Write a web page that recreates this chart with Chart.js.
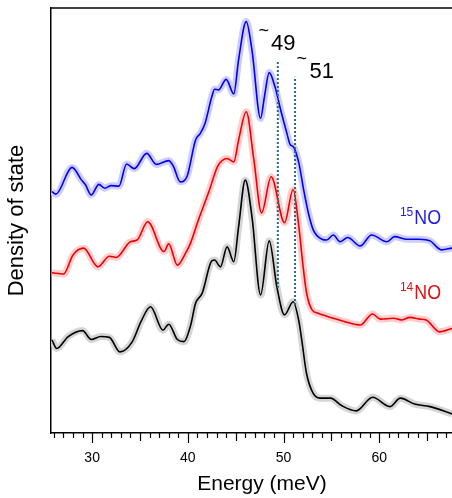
<!DOCTYPE html>
<html>
<head>
<meta charset="utf-8">
<script src="https://cdn.jsdelivr.net/npm/chart.js@4.4.0/dist/chart.umd.min.js"></script>
<style>
  html, body { margin: 0; padding: 0; background: #fff; }
</style>
</head>
<body>
<canvas id="dosChart" width="452" height="498"></canvas>
<script>
// 15NO (blue) - energy (meV) / density of state (arb. units)
const energy15 = [25.8, 26.2, 27.9, 28.9, 29.3, 29.9, 30.7, 31.3, 32.0, 32.8, 33.6, 34.4, 35.7, 36.7, 38.0, 38.5, 39.2, 39.9,
  40.8, 41.3, 41.8, 42.5, 42.8, 43.2, 44.0, 44.8, 45.3, 46.1, 46.7, 47.6, 48.0, 48.5, 49.1, 49.7, 50.35, 50.7, 51.0,
  51.6, 52.1, 52.6, 53.1, 54.0, 54.5, 55.2, 55.9, 56.7, 58.0, 59.2, 60.8, 61.6, 62.9, 64.2, 65.3, 66.5, 67.6];
const dos15 = [56.8, 56.2, 62.5, 59.5, 58.4, 56.0, 58.5, 57.6, 58.2, 58.1, 63.3, 62.2, 65.8, 63.2, 64.1, 62.7, 59.1, 60.3,
  68.9, 70.5, 72.9, 79.1, 80.9, 80.7, 83.2, 79.8, 87.8, 96.8, 90.1, 74.0, 79.1, 84.8, 81.5, 76.0, 70.5, 67.8, 67.4,
  63.5, 57.2, 51.7, 47.8, 45.6, 45.4, 46.6, 45.0, 46.0, 44.0, 46.6, 45.0, 46.2, 45.6, 45.6, 45.2, 43.1, 43.5];

// 14NO (red)
const energy14 = [25.8, 27.0, 28.0, 29.1, 30.6, 31.8, 32.5, 34.0, 34.7, 35.8, 37.5, 38.0, 38.9, 39.8, 40.3, 41.1,
  42.2, 43.1, 44.1, 44.8, 45.3, 46.1, 46.9, 47.7, 48.7, 50.1, 51.0, 51.6, 52.0, 52.4, 53.0, 53.6, 55.2, 56.4, 58.0,
  59.3, 60.1, 61.5, 62.3, 63.2, 64.2, 64.9, 66.3, 67.6];
const dos14 = [37.7, 37.4, 41.9, 43.5, 39.1, 41.6, 41.3, 45.0, 45.4, 49.7, 42.7, 44.5, 39.5, 42.5, 44.8, 50.1,
  56.8, 62.7, 64.6, 63.8, 68.9, 75.6, 64.2, 51.8, 60.3, 49.5, 57.3, 48.5, 40.0, 33.0, 28.9, 28.2, 27.0, 26.2, 25.4,
  28.0, 26.8, 27.0, 26.6, 27.2, 26.8, 26.6, 23.8, 24.6];

// bottom curve (black)
const energyK = [25.8, 26.3, 27.5, 29.0, 29.9, 30.9, 31.8, 32.9, 34.2, 35.1, 36.1, 37.4, 38.0, 38.9, 39.6, 40.3,
  40.8, 41.5, 42.5, 42.8, 43.4, 44.1, 44.8, 45.3, 46.0, 46.7, 47.6, 48.5, 49.3, 50.1, 51.0, 51.6, 51.9, 52.4, 53.1,
  53.8, 54.9, 56.1, 57.6, 59.3, 61.1, 62.2, 63.7, 65.3, 67.6];
const dosK = [21.9, 19.9, 22.7, 24.1, 22.0, 22.7, 22.5, 19.1, 21.5, 26.2, 29.7, 24.2, 25.6, 22.0, 21.5, 25.4,
  30.5, 32.9, 40.5, 40.7, 39.1, 43.8, 40.3, 48.5, 59.5, 50.9, 32.5, 45.2, 34.4, 27.8, 30.9, 26.3, 21.9, 14.0, 9.3,
  8.2, 8.2, 6.4, 5.2, 8.4, 6.2, 8.2, 6.8, 6.2, 4.5];

// dotted markers at ~49 and ~51 meV
const markerE = [49.4, 51.2];
const markerTop = [87.3, 83.8];
const markerBottom = [34.1, 30.1];

const xMin = 25.7, xMax = 67.6;
const FONT = '"Liberation Sans", Arial, sans-serif';

function toPoints(xs, ys) {
    return xs.map((x, i) => ({ x: x, y: ys[i] }));
}

function curve(xs, ys, color) {
    return {
        data: toPoints(xs, ys),
        borderColor: color,
        borderWidth: 1.6,
        cubicInterpolationMode: 'monotone',
        pointRadius: 0,
        order: 1
    };
}

function band(xs, ys, color) {
    return {
        data: toPoints(xs, ys),
        borderColor: color,
        borderWidth: 7,
        cubicInterpolationMode: 'monotone',
        pointRadius: 0,
        order: 3
    };
}

function marker(i) {
    return {
        data: [{ x: markerE[i], y: markerBottom[i] }, { x: markerE[i], y: markerTop[i] }],
        borderColor: '#2b6a7c',
        borderWidth: 2,
        borderDash: [2, 2],
        pointRadius: 0,
        order: 0
    };
}

// frame top line, minor ticks, x title and text labels
const decorations = {
    id: 'decorations',
    afterDraw(chart) {
        const { ctx, chartArea } = chart;
        const x = chart.scales.x, y = chart.scales.y;
        ctx.save();
        ctx.strokeStyle = '#000';
        ctx.lineWidth = 1.5;
        ctx.beginPath();
        ctx.moveTo(chartArea.left, chartArea.top);
        ctx.lineTo(chartArea.right, chartArea.top);
        ctx.stroke();

        ctx.lineWidth = 1.2;
        for (let e = Math.ceil(xMin); e <= xMax; e++) {
            const len = e % 10 === 0 ? 10 : (e % 5 === 0 ? 8 : 5);
            const px = Math.round(x.getPixelForValue(e)) + 0.5;
            ctx.beginPath();
            ctx.moveTo(px, chartArea.bottom);
            ctx.lineTo(px, chartArea.bottom + len);
            ctx.stroke();
        }

        // axis title (the original frame ran past the right edge, so it sits right of centre)
        ctx.fillStyle = '#000';
        ctx.textAlign = 'center';
        ctx.textBaseline = 'middle';
        ctx.font = '21px ' + FONT;
        ctx.fillText('Energy (meV)', 262, chartArea.bottom + 51);

        ctx.font = '18px ' + FONT;
        ctx.fillText('~', x.getPixelForValue(47.92), y.getPixelForValue(94.6));
        ctx.fillText('~', x.getPixelForValue(51.9), y.getPixelForValue(87.9));
        ctx.textAlign = 'left';
        ctx.textBaseline = 'alphabetic';
        ctx.font = '22px ' + FONT;
        ctx.fillText('49', x.getPixelForValue(48.69), y.getPixelForValue(90.1));
        ctx.fillText('51', x.getPixelForValue(52.71), y.getPixelForValue(83.5));

        const iso = [['15', 'NO', '#1f1fdd', 49.2], ['14', 'NO', '#e01010', 31.5]];
        iso.forEach(([mass, name, color, v]) => {
            const px = x.getPixelForValue(62.16);
            const base = y.getPixelForValue(v);
            ctx.fillStyle = color;
            ctx.font = '12px ' + FONT;
            ctx.fillText(mass, px, base - 8);
            const w = ctx.measureText(mass).width;
            ctx.save();
            ctx.translate(px + w + 1, base);
            ctx.scale(0.85, 1);
            ctx.font = '21px ' + FONT;
            ctx.fillText(name, 0, 0);
            ctx.restore();
        });
        ctx.restore();
    }
};

const ctx = document.getElementById('dosChart').getContext('2d');
const dosChart = new Chart(ctx, {
    type: 'line',
    data: {
        datasets: [
            band(energy15, dos15, 'rgba(200,200,255,0.9)'),
            band(energy14, dos14, 'rgba(255,200,200,0.9)'),
            band(energyK, dosK, 'rgba(208,208,208,0.9)'),
            curve(energy15, dos15, '#0000ee'),
            curve(energy14, dos14, '#ee0000'),
            curve(energyK, dosK, '#000000'),
            marker(0),
            marker(1)
        ]
    },
    options: {
        responsive: false,
        animation: false,
        layout: { padding: { top: 8, right: 0, bottom: 0, left: 0 } },
        plugins: {
            legend: { display: false },
            tooltip: { enabled: false }
        },
        scales: {
            x: {
                type: 'linear',
                min: xMin,
                max: xMax,
                border: { display: true, color: '#000', width: 1.5 },
                grid: { display: true, drawOnChartArea: false, drawTicks: true, tickLength: 17, color: 'rgba(0,0,0,0)' },
                ticks: {
                    stepSize: 1,
                    autoSkip: false,
                    maxRotation: 0,
                    padding: 0,
                    color: '#000',
                    font: { family: FONT, size: 14 },
                    callback: v => (v % 10 === 0 ? v : '')
                },
                afterFit: s => { s.height = 65; }
            },
            y: {
                min: 0,
                max: 100,
                ticks: { display: false },
                grid: { display: false },
                border: { display: true, color: '#000', width: 1.5 },
                title: {
                    display: true,
                    text: 'Density of state',
                    color: '#000',
                    font: { family: FONT, size: 22 }
                },
                afterFit: s => { s.width = 51; }
            }
        }
    },
    plugins: [decorations]
});
</script>
</body>
</html>
